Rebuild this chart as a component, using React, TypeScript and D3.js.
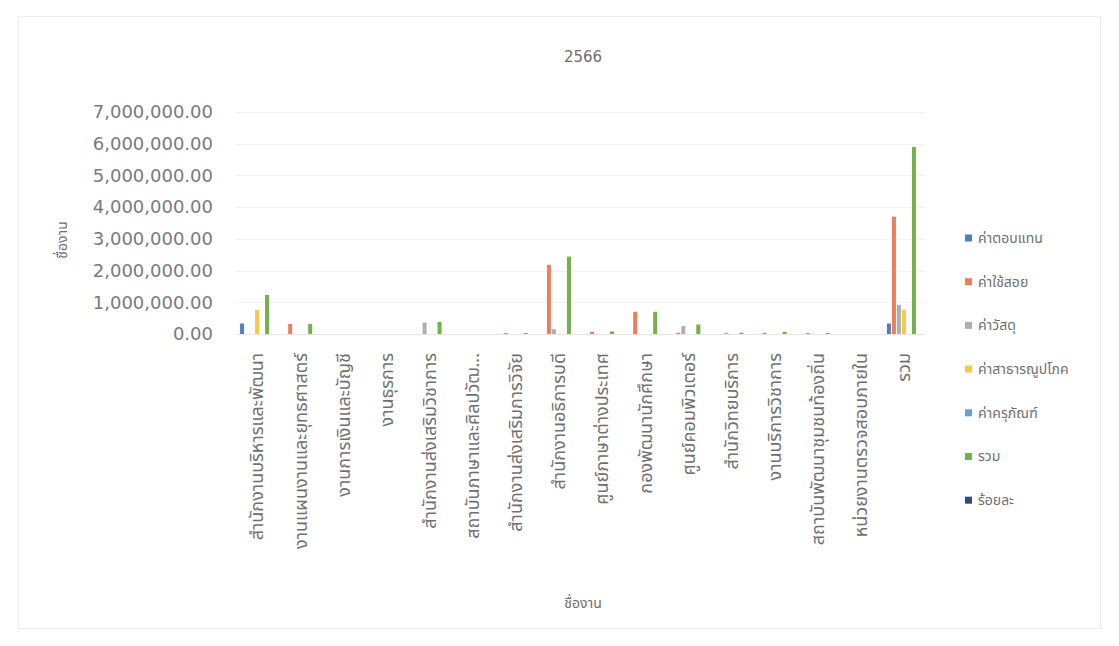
import React, { useEffect, useRef } from "react";
import * as d3 from "d3";

const title = "2566";
const categories = [
  "สำนักงานบริหารและพัฒนา",
  "งานแผนงานและยุทธศาสตร์",
  "งานการเงินและบัญชี",
  "งานธุรการ",
  "สำนักงานส่งเสริมวิชาการ",
  "สถาบันภาษาและศิลปวัฒนธรรมและการท่องเที่ยว",
  "สำนักงานส่งเสริมการวิจัย",
  "สำนักงานอธิการบดี",
  "ศูนย์ภาษาต่างประเทศ",
  "กองพัฒนานักศึกษา",
  "ศูนย์คอมพิวเตอร์",
  "สำนักวิทยบริการ",
  "งานบริการวิชาการ",
  "สถาบันพัฒนาชุมชนท้องถิ่น",
  "หน่วยงานตรวจสอบภายใน",
  "รวม",
];
const seriesNames = ["ค่าตอบแทน", "ค่าใช้สอย", "ค่าวัสดุ", "ค่าสาธารณูปโภค", "ค่าครุภัณฑ์", "รวม", "ร้อยละ"];
const seriesColors = ["#4E7FC4", "#EC7E5A", "#AFAFAF", "#F7C747", "#62A3DC", "#74B04E", "#2F4D78"];

const compensation = [330000, 0, 0, 0, 0, 0, 0, 0, 0, 0, 0, 0, 0, 0, 0, 330000];
const expenses = [0, 320000, 0, 0, 0, 0, 30000, 2180000, 70000, 700000, 40000, 0, 40000, 30000, 0, 3700000];
const materials = [0, 0, 0, 0, 360000, 0, 0, 150000, 0, 0, 250000, 40000, 0, 0, 0, 920000];
const utilities = [760000, 0, 0, 0, 0, 0, 0, 0, 0, 0, 0, 0, 0, 0, 0, 760000];
const equipment = [0, 0, 0, 0, 0, 0, 0, 0, 0, 0, 0, 0, 0, 0, 0, 0];
const total = [1230000, 320000, 0, 0, 380000, 0, 30000, 2440000, 80000, 700000, 300000, 40000, 70000, 30000, 0, 5900000];
const percent = [21, 5, 0, 0, 6, 0, 0.5, 41, 1.4, 12, 5, 0.7, 1.2, 0.5, 0, 100];
const seriesValues = [compensation, expenses, materials, utilities, equipment, total, percent];
const yTicks = [0, 1000000, 2000000, 3000000, 4000000, 5000000, 6000000, 7000000];
const xAxisTitle = "ชื่องาน";
const yAxisTitle = "ชื่องาน";

const THAI = "'Noto Sans Thai', Tahoma, 'DejaVu Sans', sans-serif";

export default function App() {
  const ref = useRef<SVGSVGElement>(null);
  useEffect(() => {
    const svg = d3.select(ref.current);
    svg.selectAll("*").remove();
    const W = 1119, H = 646;
    svg.append("rect").attr("width", W).attr("height", H).attr("fill", "#fff");
    svg.append("rect").attr("x", 18.5).attr("y", 16.5).attr("width", 1082).attr("height", 612)
      .attr("fill", "none").attr("stroke", "#EDEDED");

    const y = d3.scaleLinear().domain([0, 7000000]).range([334, 112]);
    const x = d3.scaleBand<string>().domain(categories).range([235.5, 925.5]).paddingInner(0.188).paddingOuter(0.094);
    const xs = d3.scaleBand<number>().domain(d3.range(seriesNames.length)).range([0, x.bandwidth()]);

    // gridlines
    svg.append("g").selectAll("line").data(yTicks.slice(1)).join("line")
      .attr("x1", 235.5).attr("x2", 925.5)
      .attr("y1", d => Math.round(y(d)) + 0.5).attr("y2", d => Math.round(y(d)) + 0.5)
      .attr("stroke", "#F3F3F3");

    // y tick labels
    const fmt = d3.format(",.2f");
    svg.append("g").selectAll("text").data(yTicks).join("text")
      .attr("x", 213).attr("y", d => y(d)).attr("dy", "0.35em")
      .attr("text-anchor", "end").attr("font-family", "'DejaVu Sans', sans-serif")
      .attr("font-size", 18).attr("fill", "#7A7A7A").text(d => fmt(d));

    // bars
    const g = svg.append("g");
    seriesValues.forEach((vals, si) => {
      g.append("g").selectAll("rect").data(vals).join("rect")
        .attr("x", (_, i) => (x(categories[i]) as number) + (xs(si) as number) + 0.5)
        .attr("width", xs.bandwidth() - 1)
        .attr("y", d => y(d))
        .attr("height", d => y(0) - y(d))
        .attr("fill", seriesColors[si]);
    });

    // baseline
    svg.append("line").attr("x1", 235.5).attr("x2", 925.5).attr("y1", 334.5).attr("y2", 334.5).attr("stroke", "#E6E6E6");

    // category labels
    const maxLen = 192;
    const labels = svg.append("g").selectAll("text").data(categories).join("text")
      .attr("transform", d => `translate(${(x(d) as number) + x.bandwidth() / 2},353) rotate(-90)`)
      .attr("dy", "0.35em").attr("text-anchor", "end")
      .attr("font-family", THAI).attr("font-size", 18).attr("fill", "#707070")
      .text(d => d);
    labels.each(function (d) {
      const t = this as SVGTextElement;
      if (t.getComputedTextLength() > maxLen + 10) {
        let s = d;
        while (s.length > 1) {
          s = s.slice(0, -1);
          t.textContent = s + "...";
          if (t.getComputedTextLength() <= maxLen) break;
        }
      }
    });

    // title
    svg.append("text").attr("x", 583).attr("y", 57).attr("dy", "0.35em").attr("text-anchor", "middle")
      .attr("font-family", "'DejaVu Sans', sans-serif").attr("font-size", 15).attr("fill", "#6E6E6E").text(title);

    // axis titles
    svg.append("text").attr("x", 583).attr("y", 603).attr("dy", "0.35em").attr("text-anchor", "middle")
      .attr("font-family", THAI).attr("font-size", 14).attr("fill", "#6E6E6E").text(xAxisTitle);
    svg.append("text").attr("transform", "translate(62,240) rotate(-90)").attr("dy", "0.35em").attr("text-anchor", "middle")
      .attr("font-family", THAI).attr("font-size", 14).attr("fill", "#6E6E6E").text(yAxisTitle);

    // legend
    const lg = svg.append("g").selectAll("g").data(seriesNames).join("g")
      .attr("transform", (_, i) => `translate(965,${238 + i * 43.7})`);
    lg.append("rect").attr("x", 0).attr("y", -3.5).attr("width", 7).attr("height", 7).attr("fill", (_, i) => seriesColors[i]);
    lg.append("text").attr("x", 13).attr("dy", "0.35em").attr("font-family", THAI).attr("font-size", 14)
      .attr("fill", "#6E6E6E").text(d => d);
  }, []);
  return <svg ref={ref} width={1119} height={646} style={{ position: "absolute", left: 0, top: 0 }} />;
}
